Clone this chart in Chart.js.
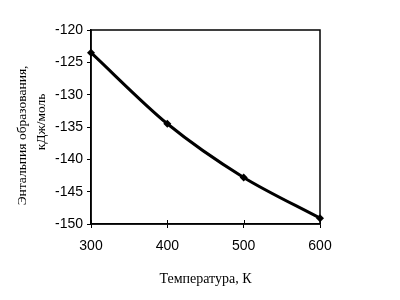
<!DOCTYPE html>
<html><head><meta charset="utf-8">
<script src="https://cdn.jsdelivr.net/npm/chart.js@4/dist/chart.umd.min.js"></script>
<style>html,body{margin:0;padding:0;background:#fff}#w{width:400px;height:300px}</style>
</head><body><div id="w"><canvas id="c"></canvas></div>
<script>
const temperatures = [300, 400, 500, 600];
const enthalpy = [-123.5, -134.5, -142.8, -149.1];
const xTicks = [300, 400, 500, 600];
const yTitle = ["Энтальпия образования,     ", "   кДж/моль"];
const xTitle = "Температура, К";

const tickFont = {family: "'Liberation Sans', Arial, sans-serif", size: 14};
const xTitleFont = {family: "'Liberation Serif', 'Times New Roman', serif", size: 14, lineHeight: '16px'};
const yTitleFont = {family: "'Liberation Serif', 'Times New Roman', serif", size: 13.5, lineHeight: '19px'};

const frame = {
  id: 'frame',
  afterDraw(chart) {
    const {ctx, chartArea: a, scales: {x}} = chart;
    ctx.save();
    ctx.strokeStyle = '#000'; ctx.lineWidth = 1.5;
    ctx.strokeRect(a.left, a.top, a.right - a.left, a.bottom - a.top);
    ctx.lineWidth = 1;
    xTicks.forEach(v => {
      const px = Math.round(x.getPixelForValue(v)) + 0.5;
      ctx.beginPath(); ctx.moveTo(px, a.bottom); ctx.lineTo(px, a.bottom - 4); ctx.stroke();
    });
    ctx.restore();
  }
};

new Chart(document.getElementById('c'), {
  type: 'line',
  data: {
    datasets: [{
      data: temperatures.map((t, i) => ({x: t, y: enthalpy[i]})),
      borderColor: '#000', backgroundColor: '#000', borderWidth: 3,
      pointStyle: 'rectRot', pointRadius: 4, pointBorderWidth: 0,
      tension: 0.3, clip: false
    }]
  },
  options: {
    responsive: true, maintainAspectRatio: false, animation: false,
    layout: {padding: {left: 0, top: 30, right: 80, bottom: 0}},
    plugins: {legend: {display: false}, tooltip: {enabled: false}},
    scales: {
      x: {
        type: 'linear', min: 300, max: 600,
        afterBuildTicks: s => { s.ticks = xTicks.map(v => ({value: v})); },
        afterFit: s => { s.height = 76; },
        grid: {drawOnChartArea: false, color: '#000', tickLength: 4, tickColor: '#000'},
        border: {color: '#000', width: 1.5},
        ticks: {color: '#000', font: tickFont, padding: 10, maxRotation: 0},
        title: {display: true, text: xTitle, color: '#000', font: xTitleFont, padding: {top: 0, bottom: 13}}
      },
      y: {
        min: -150, max: -120,
        ticks: {stepSize: 5, color: '#000', font: tickFont, padding: 4},
        afterFit: s => { s.width = 91; },
        grid: {drawOnChartArea: false, color: '#000', tickLength: 4, tickColor: '#000'},
        border: {color: '#000', width: 1.5},
        title: {display: true, text: yTitle, color: '#000', font: yTitleFont, padding: {top: 13, bottom: 0}}
      }
    }
  },
  plugins: [frame]
});
</script>
</body></html>
